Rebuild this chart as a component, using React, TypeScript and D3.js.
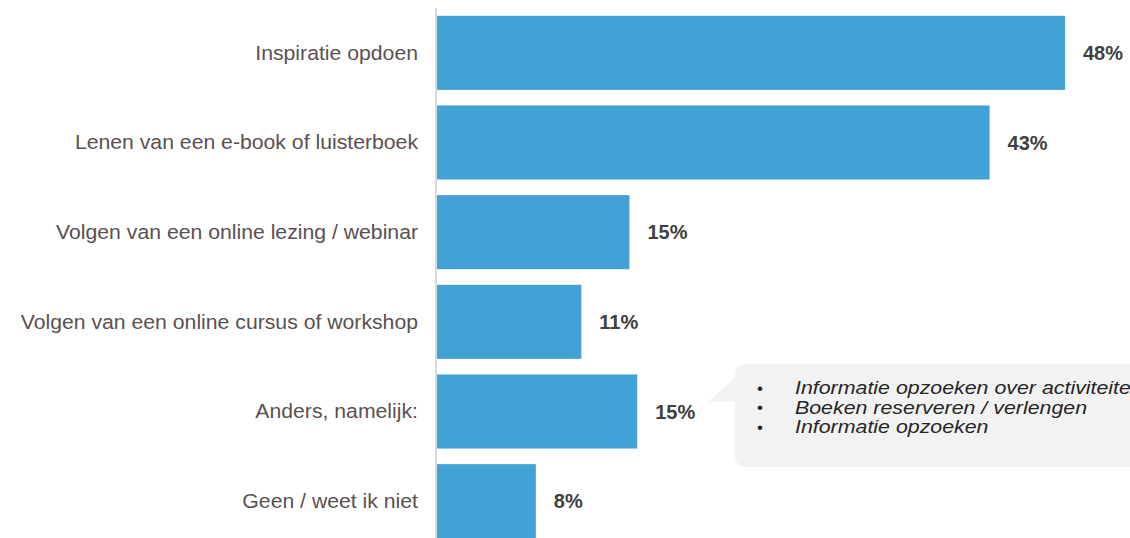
import React from 'react';
import * as d3 from 'd3';

const categories = [
  'Inspiratie opdoen',
  'Lenen van een e-book of luisterboek',
  'Volgen van een online lezing / webinar',
  'Volgen van een online cursus of workshop',
  'Anders, namelijk:',
  'Geen / weet ik niet',
];
const values = [48.3, 42.5, 14.8, 11.1, 15.4, 7.6];
const valueLabels = ['48%', '43%', '15%', '11%', '15%', '8%'];
const otherAnswers = [
  'Informatie opzoeken over activiteiten',
  'Boeken reserveren / verlengen',
  'Informatie opzoeken',
];

const width = 1130;
const height = 538;
const x0 = 437;

const App: React.FC = () => {
  const x = d3.scaleLinear().domain([0, 48.3]).range([x0, 1065]);
  const y = d3.scaleBand<string>().domain(categories).range([8, 546]).paddingInner(0.174).paddingOuter(0.087);

  const calloutIdx = 4;
  const cy = (y(categories[calloutIdx]) as number) + y.bandwidth() / 2;

  // callout bubble shape
  const bx = 735, by = 364, bw = 420, bh = 103, r = 12;
  const tipX = 709, tipY = cy - 10;
  const bubble = [
    `M${bx + r},${by}`,
    `H${bx + bw}`,
    `V${by + bh}`,
    `H${bx + r}`,
    `Q${bx},${by + bh} ${bx},${by + bh - r}`,
    `V${tipY}`,
    `H${tipX}`,
    `L${bx},${tipY - 24}`,
    `V${by + r}`,
    `Q${bx},${by} ${bx + r},${by}`,
    'Z',
  ].join(' ');

  return (
    <svg width={width} height={height} style={{ position: 'absolute', left: 0, top: 0 }}
      fontFamily="'Liberation Sans', Arial, sans-serif">
      <rect width={width} height={height} fill="#fff" />
      {categories.map((c, i) => {
        const yy = y(c) as number;
        return (
          <g key={c}>
            <rect x={x0} y={yy} width={x(values[i]) - x0} height={y.bandwidth()} fill="#43A2D5" />
            <text transform={`translate(418,${yy + y.bandwidth() / 2}) scale(1.1,1)`} dy="0.35em" textAnchor="end" fontSize={19.3} fill="#5b5050">{c}</text>
            <text x={x(values[i]) + 18} y={yy + y.bandwidth() / 2} dy="0.35em" fontSize={20} fontWeight="bold" fill="#404040">{valueLabels[i]}</text>
          </g>
        );
      })}
      <line x1={x0 - 1} x2={x0 - 1} y1={8} y2={height} stroke="#d9d9d9" strokeWidth={2} />
      <path d={bubble} fill="#f2f2f2" />
      {otherAnswers.map((t, i) => (
        <g key={i}>
          <text x={757} y={388 + i * 19.5} dy="0.35em" fontSize={17} fill="#262626">•</text>
          <text transform={`translate(795,${388 + i * 19.5}) scale(1.2,1)`} dy="0.35em" fontSize={17.8} fontStyle="italic" fill="#262626">{t}</text>
        </g>
      ))}
    </svg>
  );
};

export default App;
